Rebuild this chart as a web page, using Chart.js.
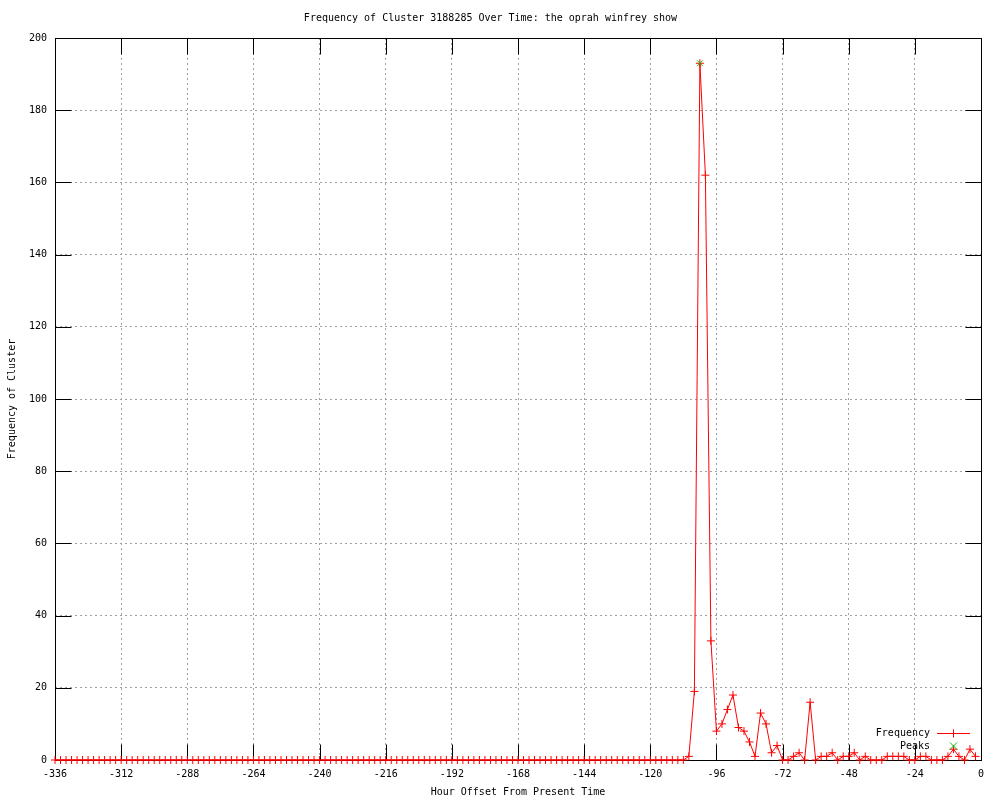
<!DOCTYPE html>
<html>
<head>
<meta charset="utf-8">
<script src="https://cdn.jsdelivr.net/npm/chart.js@4/dist/chart.umd.min.js"></script>
<style>
  body { margin: 0; background: #fff; }
  #wrap { width: 1000px; height: 800px; }
</style>
</head>
<body>
<div id="wrap"><canvas id="clusterPlot" width="1000" height="800"></canvas></div>
<script>
// hour offsets, one point every 2 hours
var hours = [];
for (var h = -336; h <= -2; h += 2) hours.push(h);

var freq = [
  0, 0, 0, 0, 0, 0, 0, 0, 0, 0, 0, 0, 0, 0, 0, 0, 0, 0, 0, 0,
  0, 0, 0, 0, 0, 0, 0, 0, 0, 0, 0, 0, 0, 0, 0, 0, 0, 0, 0, 0,
  0, 0, 0, 0, 0, 0, 0, 0, 0, 0, 0, 0, 0, 0, 0, 0, 0, 0, 0, 0,
  0, 0, 0, 0, 0, 0, 0, 0, 0, 0, 0, 0, 0, 0, 0, 0, 0, 0, 0, 0,
  0, 0, 0, 0, 0, 0, 0, 0, 0, 0, 0, 0, 0, 0, 0, 0, 0, 0, 0, 0,
  0, 0, 0, 0, 0, 0, 0, 0, 0, 0, 0, 0, 0, 0, 0,
  // -106 .. -2
  1, 19, 193, 162, 33, 8, 10, 14, 18, 9, 8, 5, 1, 13, 10, 2, 4,
  0, 0, 1, 2, 0, 16, 0, 1, 1, 2, 0, 1, 1, 2, 0, 1, 0, 0, 0,
  1, 1, 1, 1, 0, 0, 1, 1, 0, 0, 0, 1, 3, 1, 0, 3, 1
];

var peakHours = [-102];
var peakValues = [193];

var xTicks = { min: -336, max: 0, step: 24 };
var yTicks = { min: 0, max: 200, step: 20 };

var freqColor = '#ff0000';
var peakColor = '#00c000';
var monoFont = { family: '"DejaVu Sans Mono", monospace', size: 10 };

var freqPoints = hours.map(function (h, i) { return { x: h, y: freq[i] }; });
var peakPoints = peakHours.map(function (h, i) { return { x: h, y: peakValues[i] }; });

// border + inward ticks on all four sides, like gnuplot
var framePlugin = {
  id: 'frame',
  beforeDatasetsDraw: function (chart) {
    var c = chart.ctx, a = chart.chartArea;
    var xs = chart.scales.x, ys = chart.scales.y;
    var L = Math.round(a.left) + 0.5, R = Math.round(a.right) + 0.5;
    var T = Math.round(a.top) + 0.5, B = Math.round(a.bottom) + 0.5;
    var len = 16;
    c.save();
    c.strokeStyle = '#000';
    c.lineWidth = 1;
    c.setLineDash([]);
    c.beginPath();
    xs.ticks.forEach(function (t) {
      var px = Math.round(xs.getPixelForValue(t.value)) + 0.5;
      c.moveTo(px, B); c.lineTo(px, B - len);
      c.moveTo(px, T); c.lineTo(px, T + len);
    });
    ys.ticks.forEach(function (t) {
      var py = Math.round(ys.getPixelForValue(t.value)) + 0.5;
      c.moveTo(L, py); c.lineTo(L + len, py);
      c.moveTo(R, py); c.lineTo(R - len, py);
    });
    c.stroke();
    c.strokeRect(L, T, R - L, B - T);
    c.restore();
  }
};

// gnuplot style key in the lower right corner
var keyPlugin = {
  id: 'key',
  afterDatasetsDraw: function (chart) {
    var c = chart.ctx;
    var textRight = 930, sx = 953.5;
    c.save();
    c.setLineDash([]);
    c.font = '10px ' + monoFont.family;
    c.textAlign = 'right';
    c.textBaseline = 'middle';
    c.fillStyle = '#000';
    c.lineWidth = 1;

    // Frequency: line + cross
    c.fillText('Frequency', textRight, 733);
    c.strokeStyle = freqColor;
    c.beginPath();
    c.moveTo(937, 733.5); c.lineTo(970, 733.5);
    c.moveTo(sx, 729.5); c.lineTo(sx, 737.5);
    c.stroke();

    // Peaks: rotated cross only
    c.fillStyle = '#000';
    c.fillText('Peaks', textRight, 746);
    c.strokeStyle = peakColor;
    c.beginPath();
    c.moveTo(sx - 3.5, 742.5); c.lineTo(sx + 3.5, 749.5);
    c.moveTo(sx - 3.5, 749.5); c.lineTo(sx + 3.5, 742.5);
    c.stroke();
    c.restore();
  }
};

var ctx = document.getElementById('clusterPlot').getContext('2d');
var myChart = new Chart(ctx, {
  type: 'scatter',
  data: {
    datasets: [
      {
        label: 'Frequency',
        data: freqPoints,
        showLine: true,
        tension: 0,
        borderColor: freqColor,
        backgroundColor: freqColor,
        borderWidth: 1,
        pointStyle: 'cross',
        pointRadius: 4,
        pointBorderWidth: 1,
        clip: false,
        order: 1
      },
      {
        label: 'Peaks',
        data: peakPoints,
        showLine: false,
        borderColor: peakColor,
        backgroundColor: peakColor,
        pointStyle: 'crossRot',
        pointRadius: 4,
        pointBorderWidth: 1,
        clip: false,
        order: 0
      }
    ]
  },
  options: {
    animation: false,
    responsive: false,
    events: [],
    layout: { padding: { left: 0, right: 19, top: 0, bottom: 0 } },
    scales: {
      x: {
        type: 'linear',
        min: xTicks.min,
        max: xTicks.max,
        afterFit: function (s) { s.height = 40; },
        ticks: { stepSize: xTicks.step, color: '#000', font: monoFont, padding: 8, maxRotation: 0 },
        grid: { color: '#a0a0a0', drawTicks: false },
        border: { display: false, dash: [2, 3] },
        title: { display: true, text: 'Hour Offset From Present Time', color: '#000', font: monoFont, padding: { top: 0, bottom: 2 } }
      },
      y: {
        type: 'linear',
        min: yTicks.min,
        max: yTicks.max,
        afterFit: function (s) { s.width = 55; },
        ticks: { stepSize: yTicks.step, color: '#000', font: monoFont, padding: 8 },
        grid: { color: '#a0a0a0', drawTicks: false },
        border: { display: false, dash: [2, 3] },
        title: { display: true, text: 'Frequency of Cluster', color: '#000', font: monoFont, padding: { top: 6, bottom: 0 } }
      }
    },
    plugins: {
      legend: { display: false },
      tooltip: { enabled: false },
      title: {
        display: true,
        text: 'Frequency of Cluster 3188285 Over Time: the oprah winfrey show',
        color: '#000',
        font: { family: monoFont.family, size: 10, weight: 'normal' },
        padding: { top: 12, bottom: 14 }
      }
    }
  },
  plugins: [framePlugin, keyPlugin]
});
</script>
</body>
</html>
